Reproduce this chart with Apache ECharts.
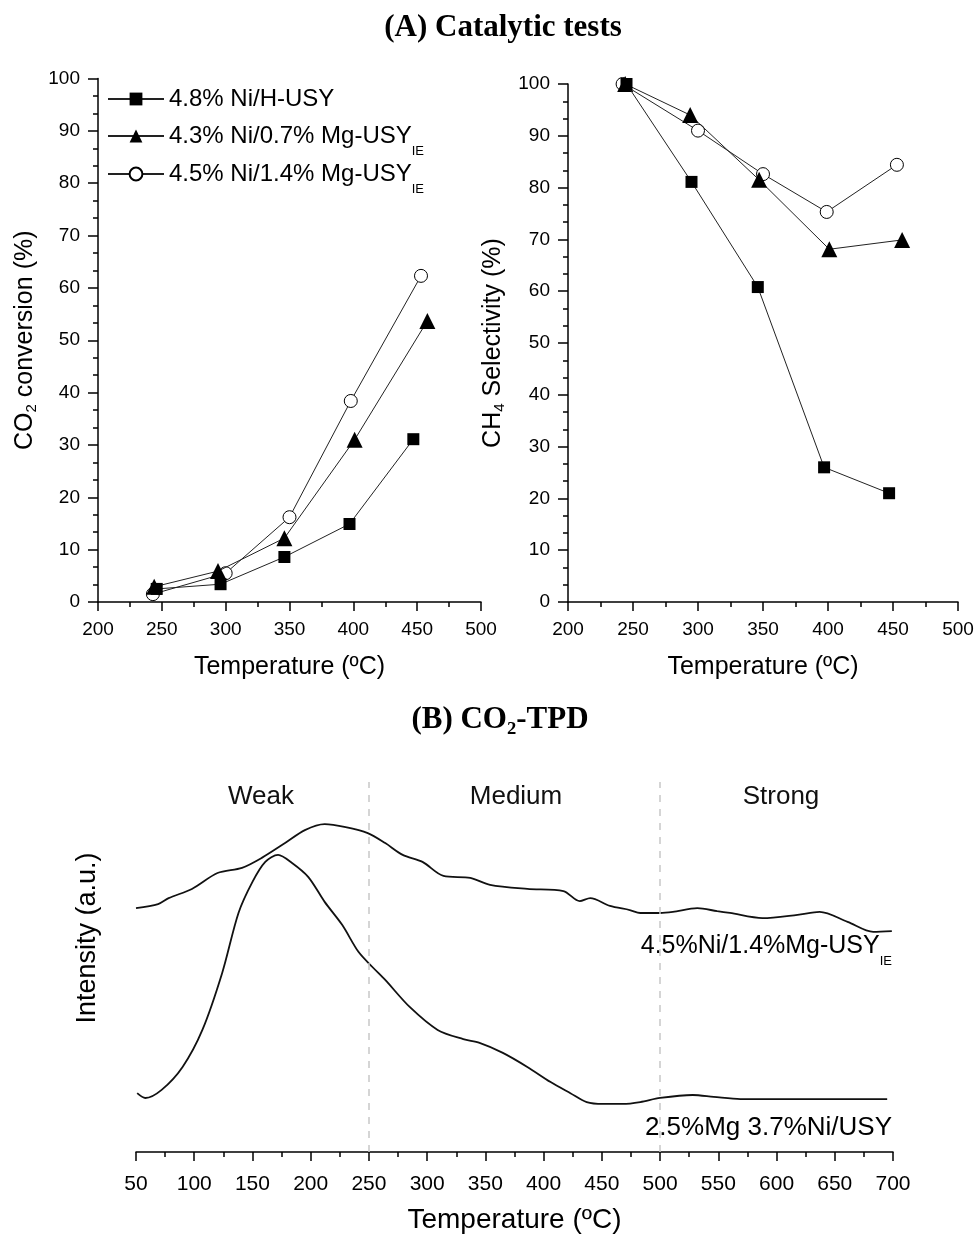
<!DOCTYPE html>
<html>
<head>
<meta charset="utf-8">
<script src="https://cdn.jsdelivr.net/npm/echarts@6/dist/echarts.min.js"></script>
<style>
  html, body { margin: 0; padding: 0; background: #fff; }
  #main { width: 977px; height: 1236px; }
</style>
</head>
<body>
<div id="main"></div>
<script>
// (A) CO2 conversion, %
var convTempSq = [246, 296, 346, 397, 447];
var convSq = [2.5, 3.4, 8.6, 14.9, 31.1];
var convTempTri = [244, 294, 346, 401, 458];
var convTri = [2.9, 5.9, 12.2, 31.0, 53.7];
var convTempCir = [243, 300, 350, 398, 453];
var convCir = [1.5, 5.5, 16.2, 38.4, 62.3];

// (A) CH4 selectivity, %
var selTempSq = [245, 295, 346, 397, 447];
var selSq = [100, 81.1, 60.8, 26.0, 21.0];
var selTempTri = [244, 294, 347, 401, 457];
var selTri = [100, 94, 81.5, 68.1, 69.9];
var selTempCir = [242, 300, 350, 399, 453];
var selCir = [100, 91, 82.6, 75.3, 84.4];

var names = ['4.8% Ni/H-USY', '4.3% Ni/0.7% Mg-USY{sub|IE}', '4.5% Ni/1.4% Mg-USY{sub|IE}'];

// (B) CO2-TPD, intensity a.u.
var tpdTempA = [50, 69, 78, 98, 120, 141, 158, 178, 195, 212, 230, 249, 264, 279, 296, 314, 337, 354, 386, 417, 431, 440, 457, 474, 483, 500, 511, 532, 549, 560, 588, 618, 637, 661, 683, 699];
var tpdA = [65.9, 67.0, 68.6, 71.1, 75.4, 76.8, 79.5, 83.5, 87.0, 88.6, 87.8, 86.2, 83.5, 80.3, 78.4, 74.6, 74.1, 72.2, 71.1, 70.5, 67.8, 68.6, 66.5, 65.4, 64.6, 64.6, 64.9, 65.9, 65.1, 64.6, 63.2, 64.1, 64.9, 62.2, 59.5, 59.7];
var tpdTempB = [51, 58, 72, 90, 107, 124, 138, 150, 161, 172, 184, 198, 212, 227, 241, 253, 264, 285, 309, 331, 345, 365, 386, 406, 423, 437, 451, 468, 483, 500, 528, 546, 569, 603, 646, 695];
var tpdB = [15.9, 14.6, 16.8, 23.0, 33.0, 48.4, 64.6, 73.0, 78.4, 80.3, 78.1, 74.3, 67.6, 61.4, 54.1, 50.0, 46.5, 39.2, 33.0, 30.5, 29.5, 26.8, 23.0, 18.9, 15.9, 13.5, 13.0, 13.0, 13.5, 14.6, 15.4, 14.9, 14.3, 14.3, 14.3, 14.3];
var regions = [250, 500];

function pairs(xs, ys) {
	return xs.map(function(x, i) { return [x, ys[i]]; });
}

var FONT = 'Liberation Sans';
var subRich = { sub: { fontSize: 13, lineHeight: 13, padding: [30, 0, 0, 0], fontFamily: FONT, color: '#000' } };

function xAx(idx, min, max, interval, labelSize, nameSize, gap) {
	return {
		type: 'value', gridIndex: idx, min: min, max: max, interval: interval,
		name: 'Temperature (ºC)', nameLocation: 'middle', nameGap: gap,
		nameTextStyle: { fontSize: nameSize, fontFamily: FONT, color: '#000' },
		axisLine: { onZero: false, lineStyle: { color: '#000', width: 1.5 } },
		axisTick: { length: 9, lineStyle: { color: '#000', width: 1.5 } },
		minorTick: { show: true, splitNumber: 2, length: 5, lineStyle: { color: '#000', width: 1.5 } },
		axisLabel: { fontSize: labelSize, fontFamily: FONT, color: '#000', margin: idx === 2 ? 22 : 18 },
		splitLine: { show: false }
	};
}

function yAx(idx, name, gap) {
	return {
		type: 'value', gridIndex: idx, min: 0, max: 100, interval: 10,
		name: name, nameLocation: 'middle', nameGap: gap,
		nameTextStyle: {
			fontSize: 25, fontFamily: FONT, color: '#000', lineHeight: 28,
			rich: { sub: { fontSize: 15, fontFamily: FONT, color: '#000', verticalAlign: 'bottom', lineHeight: 22 } }
		},
		axisLine: { show: true, lineStyle: { color: '#000', width: 1.5 } },
		axisTick: { show: true, length: 10, lineStyle: { color: '#000', width: 1.5 } },
		minorTick: { show: true, splitNumber: 3, length: 5, lineStyle: { color: '#000', width: 1.5 } },
		axisLabel: { fontSize: 19, fontFamily: FONT, color: '#000', margin: 18 },
		splitLine: { show: false }
	};
}

var marks = [
	{ symbol: 'rect', symbolSize: 12, itemStyle: { color: '#000' } },
	{ symbol: 'triangle', symbolSize: 16, itemStyle: { color: '#000' } },
	{ symbol: 'circle', symbolSize: 13, itemStyle: { color: '#fff', borderColor: '#000', borderWidth: 1 } }
];

function pointSeries(k, xi, data) {
	return {
		name: names[k], type: 'line', xAxisIndex: xi, yAxisIndex: xi,
		data: data, symbol: marks[k].symbol, symbolSize: marks[k].symbolSize,
		itemStyle: marks[k].itemStyle, lineStyle: { color: '#222', width: 1 },
		showAllSymbol: true, z: 5 - k, animation: false
	};
}

var legends = names.map(function(n, k) {
	return {
		data: [n], orient: 'vertical', left: 107, top: [99, 136, 174][k] - 21.5, padding: 0,
		itemWidth: 56, itemHeight: 16, selectedMode: false,
		textStyle: { fontSize: 24, fontFamily: FONT, color: '#000', lineHeight: 43, rich: subRich }
	};
});

var chart = echarts.init(document.getElementById('main'));
chart.setOption({
	backgroundColor: '#fff',
	animation: false,
	legend: legends,
	grid: [
		{ left: 98, top: 78.5, width: 383, height: 523.5, outerBoundsMode: 'none' },
		{ left: 568, top: 84, width: 390, height: 518, outerBoundsMode: 'none' },
		{ left: 136, top: 782, width: 757, height: 370, outerBoundsMode: 'none' }
	],
	xAxis: [
		xAx(0, 200, 500, 50, 19, 25, 53),
		xAx(1, 200, 500, 50, 19, 25, 53),
		xAx(2, 50, 700, 50, 21, 28, 54)
	],
	yAxis: [
		yAx(0, 'CO{sub|2} conversion (%)', 59),
		yAx(1, 'CH{sub|4} Selectivity (%)', 61),
		{ type: 'value', gridIndex: 2, min: 0, max: 100, show: false }
	],
	graphic: [
		{ type: 'text', x: 503, y: 28, style: { text: '(A) Catalytic tests', font: 'bold 31px "Liberation Serif"', fill: '#000', align: 'center', verticalAlign: 'middle' } },
		{ type: 'text', x: 500, y: 720, style: { text: '(B) CO₂-TPD', font: 'bold 31px "Liberation Serif"', fill: '#000', align: 'center', verticalAlign: 'middle' } },
		{ type: 'text', x: 261, y: 797, style: { text: 'Weak', font: '26px "Liberation Sans"', fill: '#111', align: 'center', verticalAlign: 'middle' } },
		{ type: 'text', x: 516, y: 797, style: { text: 'Medium', font: '26px "Liberation Sans"', fill: '#111', align: 'center', verticalAlign: 'middle' } },
		{ type: 'text', x: 781, y: 797, style: { text: 'Strong', font: '26px "Liberation Sans"', fill: '#111', align: 'center', verticalAlign: 'middle' } },
		{ type: 'text', x: 88, y: 938, rotation: Math.PI / 2, style: { text: 'Intensity (a.u.)', font: '27px "Liberation Sans"', fill: '#000', align: 'center', verticalAlign: 'middle' } },
		{ type: 'text', x: 892, y: 946 - 21.5, style: {
			text: '4.5%Ni/1.4%Mg-USY{sub|IE}', fontSize: 25, fontFamily: FONT, fill: '#000', lineHeight: 43,
			align: 'right', verticalAlign: 'top', rich: subRich } },
		{ type: 'text', x: 892, y: 1128, style: { text: '2.5%Mg 3.7%Ni/USY', font: '26px "Liberation Sans"', fill: '#000', align: 'right', verticalAlign: 'middle' } }
	],
	series: [
		pointSeries(0, 0, pairs(convTempSq, convSq)),
		pointSeries(1, 0, pairs(convTempTri, convTri)),
		pointSeries(2, 0, pairs(convTempCir, convCir)),
		pointSeries(0, 1, pairs(selTempSq, selSq)),
		pointSeries(1, 1, pairs(selTempTri, selTri)),
		pointSeries(2, 1, pairs(selTempCir, selCir)),
		{
			type: 'line', xAxisIndex: 2, yAxisIndex: 2, data: pairs(tpdTempA, tpdA),
			symbol: 'none', smooth: 0.3, lineStyle: { color: '#111', width: 1.8 },
			markLine: {
				silent: true, symbol: 'none', label: { show: false },
				lineStyle: { color: '#c8c8c8', type: [7, 7], width: 1.5 },
				data: regions.map(function(r) { return { xAxis: r }; })
			}
		},
		{
			type: 'line', xAxisIndex: 2, yAxisIndex: 2, data: pairs(tpdTempB, tpdB),
			symbol: 'none', smooth: 0.3, lineStyle: { color: '#111', width: 1.8 }
		}
	]
});
</script>
</body>
</html>
